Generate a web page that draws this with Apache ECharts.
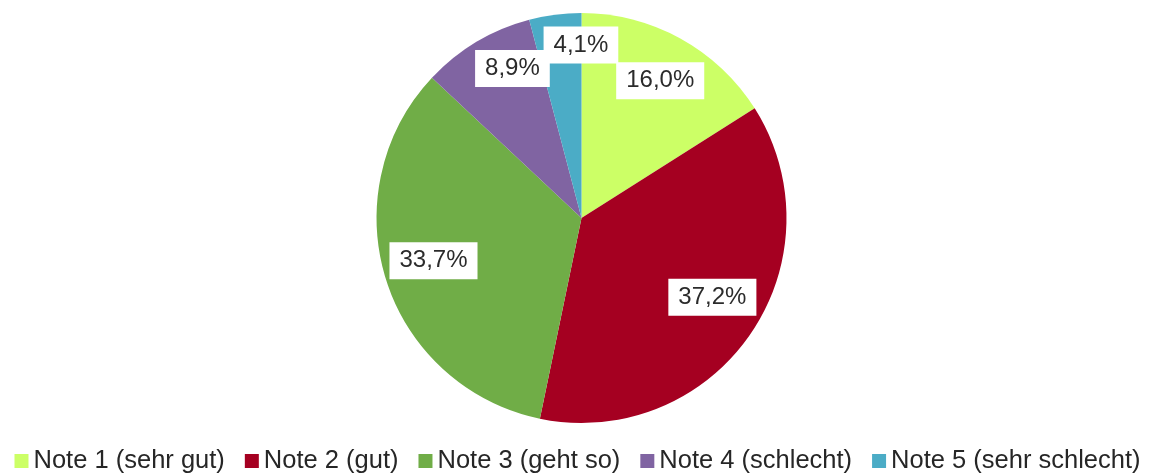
<!DOCTYPE html>
<html>
<head>
<meta charset="utf-8">
<script src="https://cdn.jsdelivr.net/npm/echarts@6/dist/echarts.min.js"></script>
<style>
  html, body { margin: 0; padding: 0; background: #fff; }
  #main { width: 1155px; height: 474px; }
</style>
</head>
<body>
<div id="main"></div>
<script>
// data
var categories = ['Note 1 (sehr gut)', 'Note 2 (gut)', 'Note 3 (geht so)', 'Note 4 (schlecht)', 'Note 5 (sehr schlecht)'];
var shares = [16.0, 37.2, 33.7, 8.9, 4.1];
var colors = ['#CCFF66', '#A50021', '#70AD47', '#8064A2', '#4BACC6'];

var CX = 581.5, CY = 218, R = 205;
// label push out from the middle of the slice (Excel "best fit" look)
var labelPush = [1.5, 1.45, 1.46, 1.56, 1.64];
var labelTurn = [1, -3.5, 1.5, 6, 7.2]; // degrees, clockwise

var myChart = echarts.init(document.getElementById('main'));

var option = {
  animation: false,
  color: colors,
  textStyle: { fontFamily: 'Liberation Sans, Arial, sans-serif' },
  legend: {
    left: 'center',
    top: 448,
    padding: 0,
    itemWidth: 14,
    itemHeight: 14,
    itemGap: 20,
    icon: 'rect',
    textStyle: { fontSize: 25.5, lineHeight: 26, color: '#262626' },
    data: categories
  },
  series: [
    {
      type: 'pie',
      center: [CX, CY],
      radius: [0, R],
      startAngle: 90,
      clockwise: true,
      silent: true,
      emphasis: { disabled: true },
      itemStyle: { borderWidth: 0 },
      label: {
        show: true,
        position: 'inside',
        fontSize: 24,
        lineHeight: 25,
        color: '#2b2b2b',
        backgroundColor: '#ffffff',
        padding: [6, 10],
        formatter: function (p) {
          return p.value.toFixed(1).replace('.', ',') + '%';
        }
      },
      labelLine: { show: false },
      labelLayout: function (p) {
        var r = p.labelRect;
        var lx = r.x + r.width / 2, ly = r.y + r.height / 2;
        var vx = lx - CX, vy = ly - CY;
        var d = Math.sqrt(vx * vx + vy * vy) * labelPush[p.dataIndex];
        var a = Math.atan2(vy, vx) + labelTurn[p.dataIndex] * Math.PI / 180;
        return {
          dx: CX + d * Math.cos(a) - lx,
          dy: CY + d * Math.sin(a) - ly
        };
      },
      data: categories.map(function (name, i) {
        return { name: name, value: shares[i] };
      })
    }
  ]
};

myChart.setOption(option);
window.addEventListener('resize', myChart.resize);
</script>
</body>
</html>
